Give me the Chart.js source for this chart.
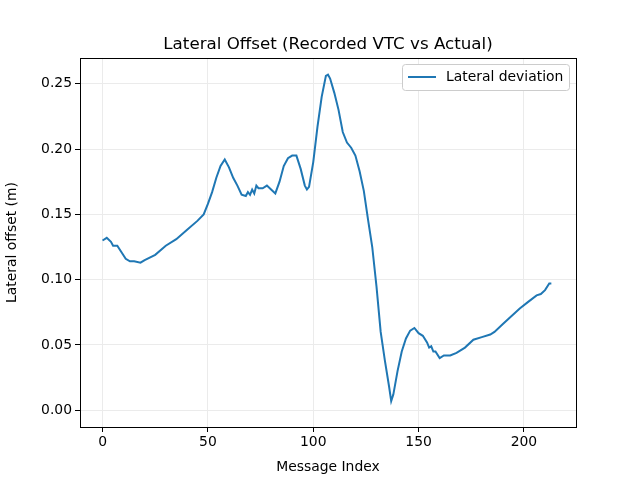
<!DOCTYPE html>
<html><head><script src="https://cdn.jsdelivr.net/npm/chart.js@4"></script>
<style>body{margin:0;background:#fff}</style></head>
<body><canvas id="c" width="640" height="480" style="width:640px;height:480px"></canvas>
<script>
const indices=[0,2,4,5,7,9,11,13,15,18,20,25,30,35,40,45,48,50,52,54,56,58,60,62,64,66,68,69,70,71,72,73,74,76,78,80,82,84,86,88,90,92,94,96,97,98,100,102,104,106,107,108,110,112,114,116,118,120,122,124,126,128,130,132,134,136,137,138,140,142,144,146,148,150,152,154,155,156,157,158,160,162,165,168,172,176,180,184,186,190,194,198,202,206,208,210,212,213];
const offsets=[0.130,0.132,0.129,0.126,0.126,0.121,0.116,0.114,0.114,0.113,0.115,0.119,0.126,0.131,0.138,0.145,0.150,0.158,0.167,0.178,0.187,0.192,0.186,0.178,0.172,0.165,0.164,0.167,0.165,0.169,0.166,0.172,0.170,0.170,0.172,0.169,0.166,0.175,0.187,0.193,0.195,0.195,0.185,0.172,0.169,0.171,0.190,0.217,0.240,0.256,0.257,0.254,0.243,0.230,0.213,0.205,0.201,0.195,0.183,0.168,0.146,0.125,0.095,0.060,0.038,0.018,0.007,0.012,0.030,0.045,0.055,0.061,0.063,0.059,0.057,0.052,0.048,0.049,0.045,0.045,0.040,0.042,0.042,0.044,0.048,0.054,0.056,0.058,0.060,0.066,0.072,0.078,0.083,0.088,0.089,0.092,0.097,0.097];
const xTicks=[0,50,100,150,200];
const yTicks=[0,0.05,0.10,0.15,0.20,0.25];
const F='DejaVu Sans';
const deco={id:'deco',afterDraw(ch){const a=ch.chartArea,c=ch.ctx;c.save();
c.strokeStyle='#000';c.lineWidth=1;c.strokeRect(a.left+0.5,a.top+0.5,a.right-a.left,a.bottom-a.top);
c.fillStyle='#000';c.font='16.7px '+F;c.textAlign='center';c.textBaseline='alphabetic';
c.fillText('Lateral Offset (Recorded VTC vs Actual)',(a.left+a.right)/2,49);
c.fillStyle='#fff';c.strokeStyle='#ccc';c.beginPath();c.roundRect(402.5,64.5,167,26,3);c.fill();c.stroke();
c.strokeStyle='#1f77b4';c.lineWidth=2;c.beginPath();c.moveTo(408,77);c.lineTo(436,77);c.stroke();
c.fillStyle='#000';c.font='13.9px '+F;c.textAlign='left';c.textBaseline='middle';c.fillText('Lateral deviation',446,77);
c.restore();}};
new Chart(document.getElementById('c'),{type:'line',
data:{datasets:[{data:indices.map((x,i)=>({x,y:offsets[i]})),borderColor:'#1f77b4',borderWidth:2,pointRadius:0,tension:0}]},
options:{responsive:false,animation:false,layout:{padding:{top:58,right:64,left:0,bottom:0}},
plugins:{legend:{display:false},title:{display:false},tooltip:{enabled:false}},
scales:{
x:{type:'linear',min:-10.7,max:224.7,afterBuildTicks(s){s.ticks=xTicks.map(v=>({value:v}));},afterFit(s){s.height=53;},
 grid:{color:'#ebebeb',tickLength:5,tickColor:'#000',drawTicks:true},border:{color:'#000'},
 ticks:{color:'#000',font:{family:F,size:13.9},padding:2,maxRotation:0},
 title:{display:true,text:'Message Index',color:'#000',font:{family:F,size:13.9},padding:{top:0}}},
y:{type:'linear',min:-0.0128,max:0.2697,afterBuildTicks(s){s.ticks=yTicks.map(v=>({value:v}));},afterFit(s){s.width=80;},
 grid:{color:'#ebebeb',tickLength:5,tickColor:'#000'},border:{color:'#000'},
 ticks:{color:'#000',font:{family:F,size:13.9},padding:3,callback:v=>v.toFixed(2)},
 title:{display:true,text:'Lateral offset (m)',color:'#000',font:{family:F,size:13.9},padding:{bottom:4}}}}},
plugins:[deco]});
</script></body></html>
